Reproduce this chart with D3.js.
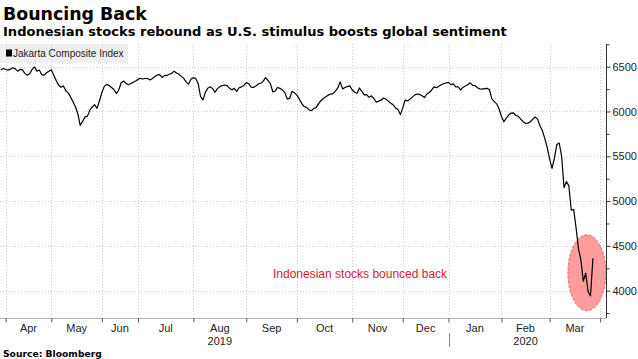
<!DOCTYPE html>
<html><head><meta charset="utf-8">
<script src="https://cdn.jsdelivr.net/npm/d3@7"></script>
<style>body{margin:0;background:#fff} svg{display:block}</style>
</head><body>
<svg id="c" width="638" height="359"></svg>
<script>
// Jakarta Composite Index, daily trading-day closes (approx. from picture), late Mar 2019 -> 26 Mar 2020
const values = [
6465,6480,6468,6462,6472,6488,6475,6450,6470,6465,6425,6405,6420,6470,6498,6450,6462,6412,6405,6432,
6450,6465,6405,6345,6296,6270,6285,6232,6208,6160,6109,6052,5975,5845,5890,5940,5948,6015,6050,6075,
6035,6120,6210,6280,6302,6290,6268,6245,6200,6240,6320,6340,6315,6298,6312,6325,6340,6358,6370,6362,
6368,6368,6352,6368,6390,6408,6412,6380,6400,6402,6415,6425,6450,6430,6416,6392,6370,6330,6305,6360,
6378,6368,6310,6165,6130,6215,6260,6275,6255,6214,6255,6275,6290,6295,6289,6260,6242,6259,6225,6265,
6275,6290,6322,6310,6272,6268,6285,6306,6315,6336,6377,6348,6312,6218,6228,6268,6258,6240,6210,6140,
6147,6225,6208,6182,6140,6090,6055,6046,6020,6008,6032,6045,6085,6120,6145,6165,6182,6193,6200,6228,
6262,6330,6252,6268,6278,6286,6240,6214,6203,6262,6225,6186,6188,6158,6175,6145,6103,6115,6126,6150,
6138,6115,6092,6075,6040,6022,5965,6040,6128,6117,6138,6160,6185,6195,6190,6175,6155,6195,6212,6240,
6275,6265,6282,6298,6310,6318,6325,6300,6308,6275,6276,6240,6268,6285,6298,6320,6292,6290,6265,6252,
6250,6255,6258,6245,6140,6110,6085,6030,5945,5885,5925,5960,5982,5985,5955,5945,5915,5885,5868,5870,
5885,5915,5938,5915,5840,5785,5700,5600,5470,5366,5480,5630,5648,5500,5150,5217,5170,4900,4905,4700,
4470,4343,4105,4194,3990,3941,4361
];
const seriesName = "Jakarta Composite Index";
const monthLabels = ["Apr","May","Jun","Jul","Aug","Sep","Oct","Nov","Dec","Jan","Feb","Mar"];
const monthTickIdx = [2,21,42,57,80,102,123,146,167,186,208,228,249];
const yearLabels = ["2019","2020"];
const yearUnderMonth = ["Aug","Feb"];
const yearBreakMonth = "Jan";
const yTicks = [4000,4500,5000,5500,6000,6500];
const yMinorTicks = [3750,4250,4750,5250,5750,6250,6750];
const title = "Bouncing Back";
const subtitle = "Indonesian stocks rebound as U.S. stimulus boosts global sentiment";
const source = "Source: Bloomberg";
const note = "Indonesian stocks bounced back";

(function () {
const svg = d3.select("#c");
const F = "'Liberation Sans', Arial, sans-serif";
const plotTop = 44, plotBottom = 318, axisX = 606;

const x = d3.scaleLinear().domain([0, 246]).range([0.8, 0.8 + 246 * 2.407]);
const y = d3.scaleLinear().domain([3695, 6753]).range([plotBottom, plotTop]);

// legend box
svg.append("rect").attr("x", 0).attr("y", plotTop).attr("width", 128).attr("height", 19).attr("fill", "#efefef");

// gridlines
const g = svg.append("g");
g.selectAll(".hg").data(yTicks).join("line")
  .attr("x1", 0).attr("x2", axisX).attr("y1", d => Math.round(y(d)) + 0.5).attr("y2", d => Math.round(y(d)) + 0.5)
  .attr("stroke", "#cfcfcf").attr("stroke-dasharray", "1,2");
g.selectAll(".vg").data(monthTickIdx).join("line")
  .attr("x1", d => Math.round(x(d)) + 0.5).attr("x2", d => Math.round(x(d)) + 0.5)
  .attr("y1", plotTop).attr("y2", plotBottom)
  .attr("stroke", "#cfcfcf").attr("stroke-dasharray", "1,2");

// legend text
svg.append("rect").attr("x", 6).attr("y", 49.5).attr("width", 6).attr("height", 7).attr("fill", "#000");
svg.append("text").attr("x", 13).attr("y", 57).attr("font-family", F).attr("font-size", 10)
  .attr("fill", "#222").text(seriesName);

// annotation ellipse
const ecx = x(243.5), ecy = y(4200);
svg.append("ellipse").attr("cx", ecx).attr("cy", ecy).attr("rx", 19).attr("ry", 38)
  .attr("fill", "#ff9c9c").attr("stroke", "#d94848").attr("stroke-width", 0.8).attr("stroke-dasharray", "3,1.5");

// line
svg.append("path").datum(values)
  .attr("d", d3.line().x((d, i) => x(i)).y(d => y(d)))
  .attr("fill", "none").attr("stroke", "#000").attr("stroke-width", 1.2).attr("stroke-linejoin", "round");

// annotation text
svg.append("text").attr("x", 273).attr("y", 277.5).attr("font-family", F).attr("font-size", 12)
  .attr("fill", "#d8232a").text(note);

// right axis
const yAxis = d3.axisRight(y).tickValues(yTicks).tickSize(4).tickPadding(2).tickFormat(d3.format("d"));
const ya = svg.append("g").attr("transform", `translate(${axisX + 0.5},0)`).call(yAxis);
ya.select(".domain").attr("d", `M0,${plotTop}V${plotBottom}`).attr("stroke", "#333");
ya.selectAll(".tick line").attr("stroke", "#333");
ya.selectAll(".tick text").attr("font-family", F).attr("font-size", 11).attr("fill", "#222");
const yMinor = d3.axisRight(y).tickValues(yMinorTicks).tickSize(3).tickFormat("");
const ym = svg.append("g").attr("transform", `translate(${axisX + 0.5},0)`).call(yMinor);
ym.select(".domain").remove();
ym.selectAll(".tick line").attr("stroke", "#333");

// bottom axis
svg.append("line").attr("x1", 0).attr("x2", axisX).attr("y1", plotBottom + 0.5).attr("y2", plotBottom + 0.5).attr("stroke", "#b5b5b5");
const xAxis = d3.axisBottom(x).tickValues(monthTickIdx).tickSize(4).tickFormat("");
const xa = svg.append("g").attr("transform", `translate(0,${plotBottom + 0.5})`).call(xAxis);
xa.select(".domain").remove();
xa.selectAll(".tick line").attr("stroke", "#555");

const mid = i => (monthTickIdx[i] + monthTickIdx[i + 1]) / 2;
svg.selectAll(".ml").data(monthLabels).join("text")
  .attr("x", (d, i) => x(mid(i))).attr("y", 331.5).attr("text-anchor", "middle")
  .attr("font-family", F).attr("font-size", 11).attr("fill", "#222").text(d => d);
svg.selectAll(".yl").data(yearLabels).join("text")
  .attr("x", (d, i) => x(mid(monthLabels.indexOf(yearUnderMonth[i])))).attr("y", 345)
  .attr("text-anchor", "middle").attr("font-family", F).attr("font-size", 11).attr("fill", "#222").text(d => d);
const bx = Math.round(x(monthTickIdx[monthLabels.indexOf(yearBreakMonth)])) + 0.5;
svg.append("line").attr("x1", bx).attr("x2", bx).attr("y1", 333).attr("y2", 347).attr("stroke", "#888");

// titles
function fit(sel, w) {
  const cur = sel.node().getComputedTextLength();
  const fs = parseFloat(sel.attr("font-size"));
  if (cur > 0) sel.attr("font-size", (fs * w / cur).toFixed(2));
}
const TF = "'DejaVu Sans', Verdana, sans-serif";
const t1 = svg.append("text").attr("x", 3).attr("y", 19.5).attr("font-family", TF).attr("font-weight", "bold")
  .attr("font-size", 18).attr("fill", "#000").text(title);
fit(t1, 144);
const t2 = svg.append("text").attr("x", 3).attr("y", 35.5).attr("font-family", TF).attr("font-weight", "bold")
  .attr("font-size", 13).attr("fill", "#000").text(subtitle);
fit(t2, 504);
const t3 = svg.append("text").attr("x", 3).attr("y", 356.5).attr("font-family", TF).attr("font-weight", "bold")
  .attr("font-size", 10).attr("fill", "#000").text(source);
fit(t3, 99);
})();
</script>
</body></html>
